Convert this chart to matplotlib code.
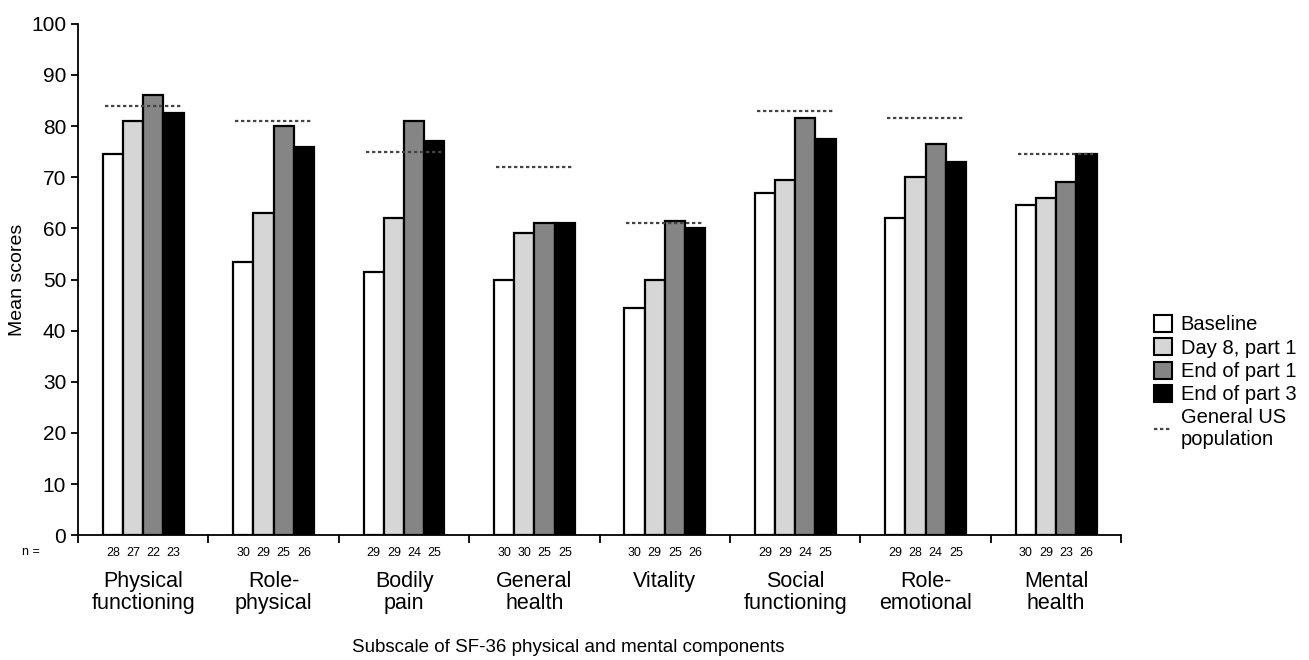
import numpy as np
import matplotlib.pyplot as plt
from matplotlib.patches import Patch
from matplotlib.lines import Line2D
from matplotlib.transforms import blended_transform_factory

plt.rcParams['font.family'] = ['Liberation Sans', 'DejaVu Sans']

subscales = ['Physical\nfunctioning', 'Role-\nphysical', 'Bodily\npain', 'General\nhealth',
             'Vitality', 'Social\nfunctioning', 'Role-\nemotional', 'Mental\nhealth']
series = ['Baseline', 'Day 8, part 1', 'End of part 1', 'End of part 3']
baseline = [74.5, 53.5, 51.5, 50, 44.5, 67, 62, 64.5]
day8 = [81, 63, 62, 59, 50, 69.5, 70, 66]
end_part1 = [86, 80, 81, 61, 61.5, 81.5, 76.5, 69]
end_part3 = [82.5, 76, 77, 61, 60, 77.5, 73, 74.5]
us_population = [84, 81, 75, 72, 61, 83, 81.5, 74.5]
n_counts = [[28, 27, 22, 23], [30, 29, 25, 26], [29, 29, 24, 25], [30, 30, 25, 25],
            [30, 29, 25, 26], [29, 29, 24, 25], [29, 28, 24, 25], [30, 29, 23, 26]]

colors = ['white', '#d6d6d6', '#858585', 'black']

fig = plt.figure(figsize=(13.09, 6.6), dpi=100)
ax = fig.add_axes([0.0596, 0.189, 0.797, 0.775])

x = np.arange(len(subscales))
w = 0.155
offsets = (np.arange(4) - 1.5) * w
for vals, off, c in zip([baseline, day8, end_part1, end_part3], offsets, colors):
    ax.bar(x + off, vals, width=w, color=c, edgecolor='black', linewidth=1.6)

# reference line for the general US population
for xi, v in zip(x, us_population):
    ax.plot([xi - 1.9 * w, xi + 1.9 * w], [v, v], color='#444444', linestyle=(0, (1.5, 1.2)),
            linewidth=1.6)

ax.set_xlim(-0.5, 7.5)
ax.set_ylim(0, 100)
ax.set_yticks(range(0, 101, 10))
ax.set_xticks(np.arange(-0.5, 8, 1))
ax.set_xticklabels([])
ax.tick_params(axis='y', labelsize=15, length=5, width=1.3)
ax.tick_params(axis='x', length=6, width=1.3)
for s in ['top', 'right']:
    ax.spines[s].set_visible(False)
for s in ['left', 'bottom']:
    ax.spines[s].set_linewidth(1.3)
ax.set_ylabel('Mean scores', fontsize=14, labelpad=4)

trans = blended_transform_factory(ax.transData, ax.transAxes)
fig.text(0.017, 0.164, 'n =', fontsize=9, ha='left', va='center')
for xi, counts in zip(x, n_counts):
    for off, n in zip(offsets, counts):
        ax.text(xi + off, -0.035, str(n), transform=trans, fontsize=9, ha='center', va='center')
    ax.text(xi, -0.07, subscales[xi], transform=trans, fontsize=15.5, ha='center', va='top',
            linespacing=1.05)

ax.text(0.47, -0.22, 'Subscale of SF-36 physical and mental components', transform=ax.transAxes,
        fontsize=13.5, ha='center', va='center')

handles = [Patch(facecolor=c, edgecolor='black', linewidth=1.5) for c in colors]
handles.append(Line2D([], [], color='#444444', linestyle=(0, (1.5, 1.2)), linewidth=1.6))
fig.legend(handles, series + ['General US\npopulation'], loc='upper left',
           bbox_to_anchor=(0.868, 0.55), frameon=False, fontsize=14.5,
           handlelength=0.9, handleheight=0.9, handletextpad=0.4, labelspacing=0.2)

fig.savefig('out.png', dpi=100)
